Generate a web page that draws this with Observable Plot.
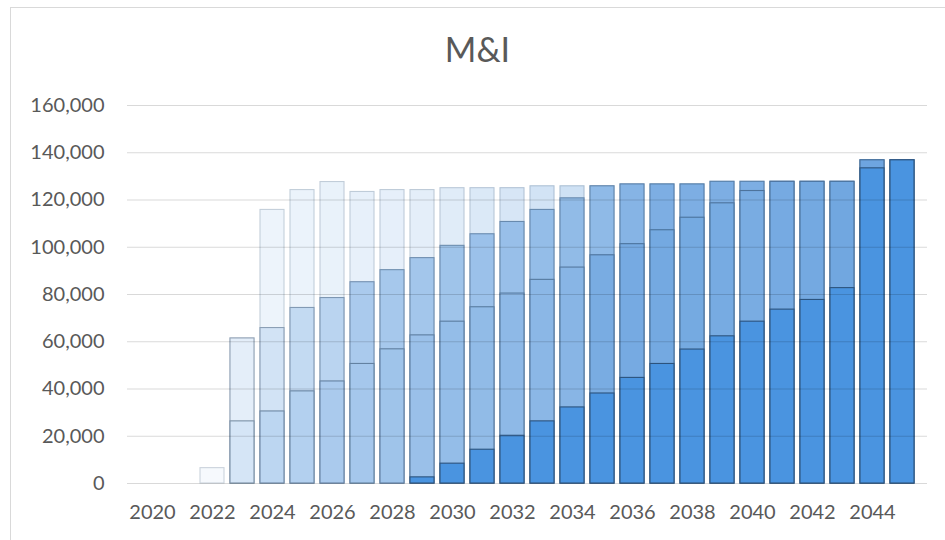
<!DOCTYPE html>
<html>
<head>
<meta charset="utf-8">
<script src="https://cdn.jsdelivr.net/npm/d3@7"></script>
<script src="https://cdn.jsdelivr.net/npm/@observablehq/plot@0.6"></script>
<style>
  html, body { margin: 0; padding: 0; background: #fff; overflow: hidden; }
  #wrap { position: relative; width: 945px; height: 540px; overflow: hidden; font-family: Lato, "Open Sans", sans-serif; }
  #frame { position: absolute; left: 10px; top: 7px; width: 960px; height: 600px; border: 1px solid #d9d9d9; box-sizing: border-box; }
  #title { position: absolute; left: 10px; width: 935px; top: 29px; text-align: center; font-size: 34px; line-height: 40.8px; color: #595959; }
  #chart { position: absolute; left: 0; top: 0; }
</style>
</head>
<body>
<div id="wrap">
  <div id="frame"></div>
  <div id="title">M&amp;I</div>
  <div id="chart"></div>
</div>
<script>
// ---- data ----
const years = [2020, 2021, 2022, 2023, 2024, 2025, 2026, 2027, 2028, 2029, 2030, 2031, 2032,
               2033, 2034, 2035, 2036, 2037, 2038, 2039, 2040, 2041, 2042, 2043, 2044, 2045];

// faintest, tallest layer
const seriesD = [null, null, 6500, 61400, 115800, 124200, 127600, 123400, 124200, 124200, 125000, 125000, 125000,
                 125800, 125800, 125800, 126600, 126600, 126600, 127700, 127700, 127700, 127700, 127700, 136800, 136800];
// second layer
const seriesC = [null, null, null, 61400, 65800, 74300, 78500, 85200, 90300, 95400, 100600, 105500, 110700,
                 115800, 120700, 125800, 126600, 126600, 126600, 127700, 127700, 127700, 127700, 127700, 136800, 136800];
// third layer
const seriesB = [null, null, null, 26300, 30500, 39000, 43200, 50600, 56800, 62700, 68500, 74600, 80400,
                 86200, 91400, 96600, 101300, 107200, 112500, 118600, 123800, 127700, 127700, 127700, 136800, 136800];
// front, solid layer
const seriesA = [null, null, null, null, null, null, null, null, null, 2600, 8400, 14300, 20200,
                 26300, 32200, 38100, 44700, 50600, 56700, 62300, 68500, 73600, 77700, 82700, 133400, 136800];

const yTicks = [0, 20000, 40000, 60000, 80000, 100000, 120000, 140000, 160000];
const xTicks = [2020, 2022, 2024, 2026, 2028, 2030, 2032, 2034, 2036, 2038, 2040, 2042, 2044];

// ---- styling ----
const solidBlue = "#4a94e0";
const edge = "#203a56";
const shade = d3.interpolateRgb("#ffffff", "#4a8fd8");

const layers = [
  { name: "D", values: seriesD,
    fill: y => shade(d3.scaleLinear().domain([2022, 2024, 2029, 2034]).range([0.05, 0.10, 0.15, 0.27]).clamp(true)(y)),
    edgeMix: 0.2 },
  { name: "C", values: seriesC,
    fill: y => shade(d3.scaleLinear().domain([2023, 2024, 2025, 2026, 2027, 2030, 2034, 2035, 2037]).range([0.15, 0.25, 0.33, 0.38, 0.47, 0.53, 0.61, 0.62, 0.72]).clamp(true)(y)),
    edgeMix: 0.4 },
  { name: "B", values: seriesB,
    fill: y => shade(d3.scaleLinear().domain([2023, 2024, 2026, 2030, 2034, 2035, 2037, 2040, 2044]).range([0.23, 0.37, 0.47, 0.59, 0.66, 0.74, 0.77, 0.74, 0.80]).clamp(true)(y)),
    edgeMix: 0.5 },
  { name: "A", values: seriesA,
    fill: () => solidBlue,
    edgeMix: 0.72 }
];

const barMarks = layers.map(layer => {
  const rows = years.map((year, i) => ({ year, value: layer.values[i] })).filter(d => d.value != null);
  return Plot.barY(rows, {
    x: "year",
    y: "value",
    fill: d => layer.fill(d.year),
    stroke: d => d3.interpolateRgb(layer.fill(d.year), edge)(layer.edgeMix),
    strokeWidth: 1.1
  });
});

const chart = Plot.plot({
  width: 945,
  height: 540,
  marginLeft: 127,
  marginRight: 18,
  marginTop: 105,
  marginBottom: 57,
  style: { fontFamily: "Lato, 'Open Sans', sans-serif", fontSize: "20px", color: "#595959", background: "transparent", overflow: "visible" },
  color: { type: "identity" },
  x: { domain: years, paddingInner: 0.2, paddingOuter: 0.1, ticks: xTicks, tickSize: 0, tickPadding: 21, tickFormat: d => String(d), label: null },
  y: { domain: [0, 160000], ticks: yTicks, tickSize: 0, tickPadding: 23, tickFormat: d3.format(","), label: null },
  marks: [
    ...barMarks,
    Plot.ruleY(yTicks, { stroke: "#000", strokeOpacity: 0.15, strokeWidth: 1.2 })
  ]
});

document.getElementById("chart").appendChild(chart);
</script>
</body>
</html>
